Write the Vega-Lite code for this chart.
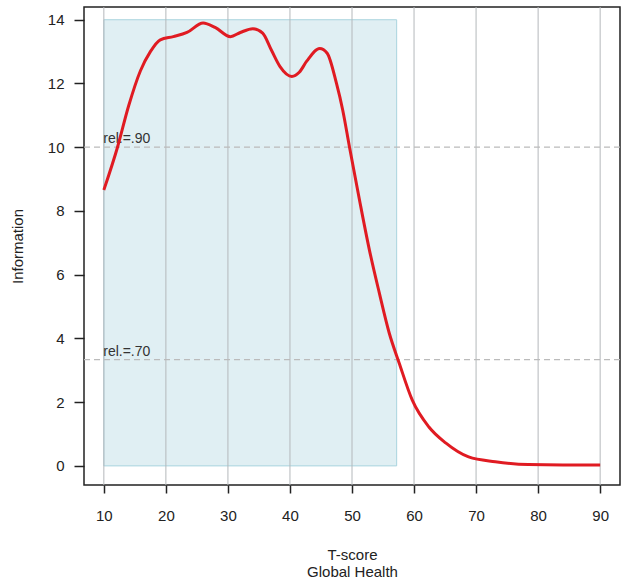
{
  "$schema": "https://vega.github.io/schema/vega-lite/v6.json",
  "width": 536,
  "height": 478,
  "autosize": {"type": "none"},
  "padding": {"left": 84, "top": 7, "right": 13, "bottom": 103},
  "background": "white",
  "config": {
    "font": "Liberation Sans",
    "view": {"stroke": "#222222", "strokeWidth": 1.5},
    "axis": {"labelFont": "Liberation Sans", "titleFont": "Liberation Sans", "labelFontSize": 15, "titleFontSize": 15, "labelColor": "#222", "titleColor": "#222", "titleFontWeight": "normal", "domain": false, "ticks": true, "tickColor": "#222", "tickWidth": 1.5, "grid": false}
  },
  "datasets": {
    "curve": [
      {"t": 10, "info": 8.66},
      {"t": 12.2, "info": 10.0},
      {"t": 14, "info": 11.3},
      {"t": 15.9, "info": 12.4},
      {"t": 17.5, "info": 13.0},
      {"t": 19.1, "info": 13.37},
      {"t": 21.2, "info": 13.47},
      {"t": 23.4, "info": 13.6},
      {"t": 26, "info": 13.9},
      {"t": 28, "info": 13.75},
      {"t": 30.4, "info": 13.47},
      {"t": 32, "info": 13.6},
      {"t": 34, "info": 13.72},
      {"t": 35.6, "info": 13.58},
      {"t": 37, "info": 13.05},
      {"t": 38.4, "info": 12.53},
      {"t": 40.3, "info": 12.22},
      {"t": 41.5, "info": 12.35},
      {"t": 42.7, "info": 12.7},
      {"t": 44.8, "info": 13.1},
      {"t": 46, "info": 12.95},
      {"t": 47.5, "info": 12.0},
      {"t": 48.5, "info": 11.17},
      {"t": 49.6, "info": 10.0},
      {"t": 51.2, "info": 8.35},
      {"t": 52.8, "info": 6.78},
      {"t": 54.4, "info": 5.43},
      {"t": 56, "info": 4.17},
      {"t": 57.6, "info": 3.23},
      {"t": 59.7, "info": 2.07},
      {"t": 62.4, "info": 1.22},
      {"t": 65.1, "info": 0.72},
      {"t": 68.8, "info": 0.28},
      {"t": 73.1, "info": 0.13},
      {"t": 78.4, "info": 0.04},
      {"t": 84, "info": 0.03},
      {"t": 90, "info": 0.03}
    ],
    "band": [{"x1": 10, "x2": 57.2, "y1": 0, "y2": 14}],
    "grid": [{"t": 10}, {"t": 20}, {"t": 30}, {"t": 40}, {"t": 50}, {"t": 60}, {"t": 70}, {"t": 80}, {"t": 90}],
    "rel": [{"info": 10, "label": "rel.=.90"}, {"info": 3.333, "label": "rel.=.70"}]
  },
  "layer": [
    {
      "data": {"name": "band"},
      "mark": {"type": "rect", "fill": "#e0eff3", "stroke": "#a9d4de", "strokeWidth": 1},
      "encoding": {
        "x": {"field": "x1", "type": "quantitative", "scale": {"domain": [6.8, 93.2], "nice": false, "zero": false}, "axis": {"values": [10, 20, 30, 40, 50, 60, 70, 80, 90], "title": ["T-score", "Global Health"], "tickSize": 8, "titlePadding": 24, "labelPadding": 15, "titleLineHeight": 17}},
        "x2": {"field": "x2"},
        "y": {"field": "y1", "type": "quantitative", "scale": {"domain": [-0.6, 14.4], "nice": false, "zero": false}, "axis": {"values": [0, 2, 4, 6, 8, 10, 12, 14], "title": "Information", "tickSize": 10, "labelPadding": 10, "titlePadding": 22}},
        "y2": {"field": "y2"}
      }
    },
    {
      "data": {"name": "grid"},
      "mark": {"type": "rule", "color": "#b4b8bb", "strokeWidth": 1},
      "encoding": {"x": {"field": "t", "type": "quantitative"}}
    },
    {
      "data": {"name": "rel"},
      "mark": {"type": "rule", "color": "#bbbbbb", "strokeWidth": 1.2, "strokeDash": [6, 4]},
      "encoding": {"y": {"field": "info", "type": "quantitative"}}
    },
    {
      "data": {"name": "rel"},
      "mark": {"type": "text", "align": "left", "baseline": "bottom", "fontSize": 14, "color": "#333333", "dy": -1},
      "encoding": {"y": {"field": "info", "type": "quantitative"}, "x": {"datum": 9.9, "type": "quantitative"}, "text": {"field": "label"}}
    },
    {
      "data": {"name": "curve"},
      "mark": {"type": "line", "color": "#e01b22", "strokeWidth": 3, "interpolate": "monotone"},
      "encoding": {"x": {"field": "t", "type": "quantitative"}, "y": {"field": "info", "type": "quantitative"}}
    }
  ]
}
